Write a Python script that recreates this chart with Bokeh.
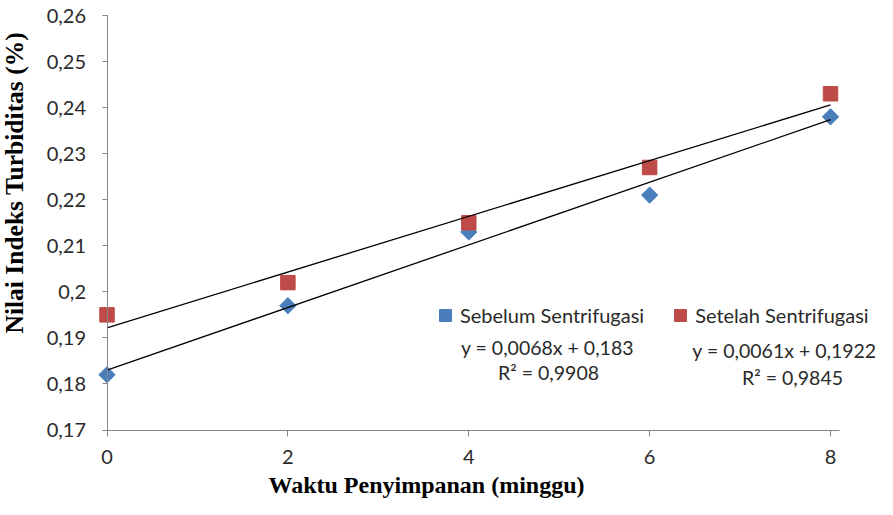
from bokeh.plotting import figure
from bokeh.models import Range1d, FixedTicker, Legend, LegendItem, Label
from bokeh.embed import file_html
from bokeh.resources import INLINE
import numpy as np

weeks = [0, 2, 4, 6, 8]
sebelum = [0.182, 0.197, 0.213, 0.221, 0.238]
setelah = [0.195, 0.202, 0.215, 0.227, 0.243]
y_ticks = [0.17, 0.18, 0.19, 0.20, 0.21, 0.22, 0.23, 0.24, 0.25, 0.26]
y_tick_labels = ["0,17", "0,18", "0,19", "0,2", "0,21", "0,22", "0,23", "0,24", "0,25", "0,26"]
x_ticks = [0, 2, 4, 6, 8]
series_names = ["Sebelum Sentrifugasi", "Setelah Sentrifugasi"]
eq_texts = [("y = 0,0068x + 0,183", "R² = 0,9908"), ("y = 0,0061x + 0,1922", "R² = 0,9845")]
x_title = "Waktu Penyimpanan  (minggu)"
y_title = "Nilai Indeks Turbiditas  (%)"

BLUE = "#4A7EBB"
RED = "#BE4B48"
AXIS = "#868686"
FONT = "Lato"
TEXT = "#2a2a2a"

# frame covers the whole canvas; axes are pinned at x=0 and y=0.17
p = figure(width=877, height=499, output_backend="svg", toolbar_location=None,
           x_range=Range1d(-1.1776, 8.5194), y_range=Range1d(0.15491, 0.263257),
           min_border=0)
p.outline_line_color = None
p.grid.visible = False
p.background_fill_color = "white"

r1 = p.scatter(weeks, sebelum, marker="square", angle=np.pi / 4, size=11.5,
               fill_color=BLUE, line_color=BLUE)
r2 = p.scatter(weeks, setelah, marker="square", size=14.5, fill_color=RED, line_color=RED)

xs = np.array([0.0, 8.0])
for ys in (sebelum, setelah):
    m, b = np.polyfit(weeks, ys, 1)
    p.line(xs, m * xs + b, line_color="black", line_width=1.3)

for ax in (p.xaxis[0], p.yaxis[0]):
    ax.axis_line_color = AXIS
    ax.major_tick_line_color = AXIS
    ax.minor_tick_line_color = None
    ax.major_tick_in = 0
    ax.major_label_text_font = FONT
    ax.major_label_text_font_size = "20px"
    ax.major_label_text_color = TEXT

p.xaxis.fixed_location = 0.17
p.yaxis.fixed_location = 0
p.xaxis.bounds = (0, 8.1)
p.yaxis.bounds = (0.17, 0.26)
p.xaxis.major_tick_out = 6
p.yaxis.major_tick_out = 5
p.xaxis.ticker = FixedTicker(ticks=x_ticks)
p.yaxis.ticker = FixedTicker(ticks=y_ticks)
p.yaxis.major_label_overrides = {t: l for t, l in zip(y_ticks, y_tick_labels)}
p.yaxis.major_label_standoff = 16
p.xaxis.major_label_standoff = 14

p.add_layout(Label(x=-1.0228, y=0.22439, text=y_title, angle=np.pi / 2, text_align="center",
                   text_baseline="middle", text_font="Liberation Serif", text_font_style="bold",
                   text_font_size="25.5px", text_color="black"))
p.add_layout(Label(x=3.5659, y=0.15795, text=x_title, text_align="center",
                   text_baseline="middle", text_font="Liberation Serif", text_font_style="bold",
                   text_font_size="24px", text_color="black"))

legend = Legend(items=[LegendItem(label=series_names[0], renderers=[r1]),
                       LegendItem(label=series_names[1], renderers=[r2])],
                orientation="horizontal", location=(430, 169),
                border_line_color=None, background_fill_alpha=0,
                label_text_font=FONT, label_text_font_size="20px",
                label_text_color=TEXT,
                glyph_width=30, glyph_height=30, spacing=21, padding=0, margin=0,
                label_standoff=0)
p.add_layout(legend, "center")

eq_pos = [(4.8706, 0.187914, 4.8817, 0.182486), (7.4911, 0.187262, 7.5796, 0.181400)]
for (eq, r2t), (ex, ey, rx, ry) in zip(eq_texts, eq_pos):
    p.add_layout(Label(x=ex, y=ey, text=eq, text_align="center", text_baseline="middle",
                       text_font=FONT, text_font_size="19.5px", text_color=TEXT))
    p.add_layout(Label(x=rx, y=ry, text=r2t, text_align="center", text_baseline="middle",
                       text_font=FONT, text_font_size="19.5px", text_color=TEXT))

open("out.html", "w").write(file_html(p, INLINE))
